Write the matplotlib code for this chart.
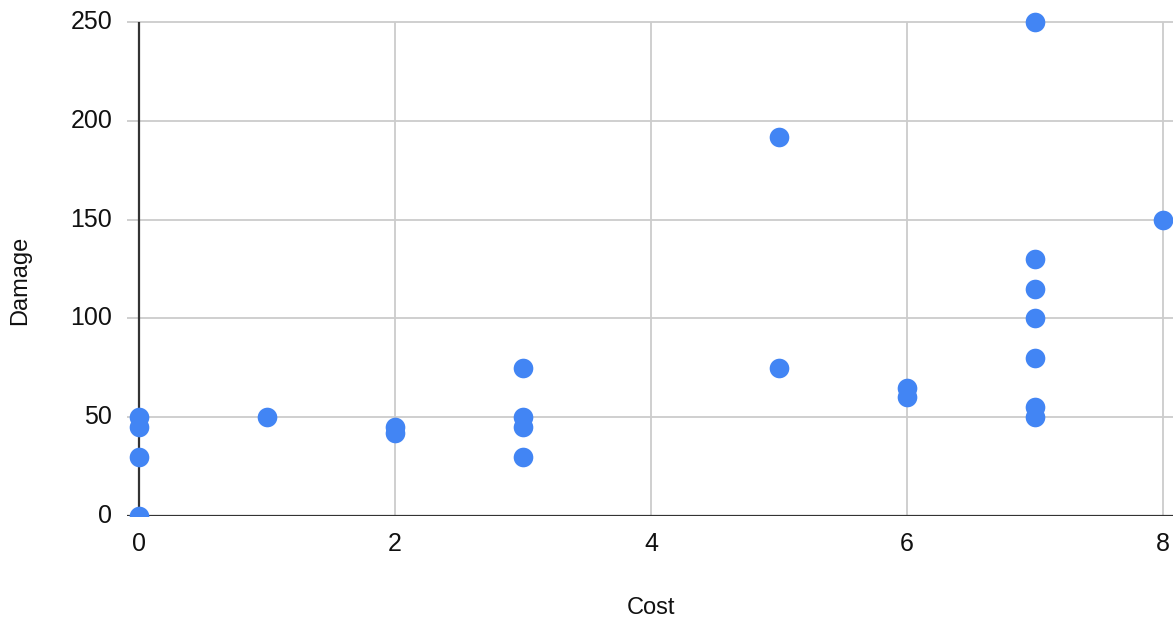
import numpy as np
import matplotlib.pyplot as plt

plt.rcParams['font.family'] = ['Liberation Sans', 'DejaVu Sans']

# data
cost = [0, 0, 0, 0, 1, 2, 2, 3, 3, 3, 3, 5, 5, 6, 6, 7, 7, 7, 7, 7, 7, 7, 8]
damage = [50, 45, 30, 0, 50, 45, 42, 75, 50, 45, 30, 192, 75, 65, 60,
          250, 130, 115, 100, 80, 55, 50, 150]
xticks = [0, 2, 4, 6, 8]
yticks = [0, 50, 100, 150, 200, 250]

fig = plt.figure(figsize=(11.73, 6.2), dpi=100)
ax = fig.add_axes([127/1173, 104/620, 1 - 127/1173, 1 - 104/620])

x0, x1 = -0.094, 8.078
ax.set_xlim(x0, x1)
ax.set_ylim(0, 261.1)

# grid
ax.hlines(yticks[1:], x0, x1, color="#cccccc", lw=1.3, zorder=1)
ax.vlines(xticks[1:], 0, 250, color="#cccccc", lw=1.3, zorder=1)
ax.hlines(0, x0, x1, color="#333333", lw=1.6, zorder=2)
ax.vlines(0, 0, 250, color="#333333", lw=1.6, zorder=2)

ax.scatter(cost, damage, s=200, color="#4285f4", zorder=3, linewidths=0)

for s in ax.spines.values():
    s.set_visible(False)
ax.set_xticks([])
ax.set_yticks([])

for t in xticks:
    ax.text(t, -8, str(t), ha="center", va="top", fontsize=18, color="#111111")
for t in yticks:
    ax.text(-0.21, t, str(t), ha="right", va="center", fontsize=18, color="#111111")

fig.text(651/1173, 1 - 608/620, "Cost", ha="center", va="center", fontsize=17, color="#111111")
fig.text(20/1173, 1 - 280/620, "Damage", ha="center", va="center", rotation=90,
         fontsize=17, color="#111111")

fig.savefig("out.png", dpi=100)
